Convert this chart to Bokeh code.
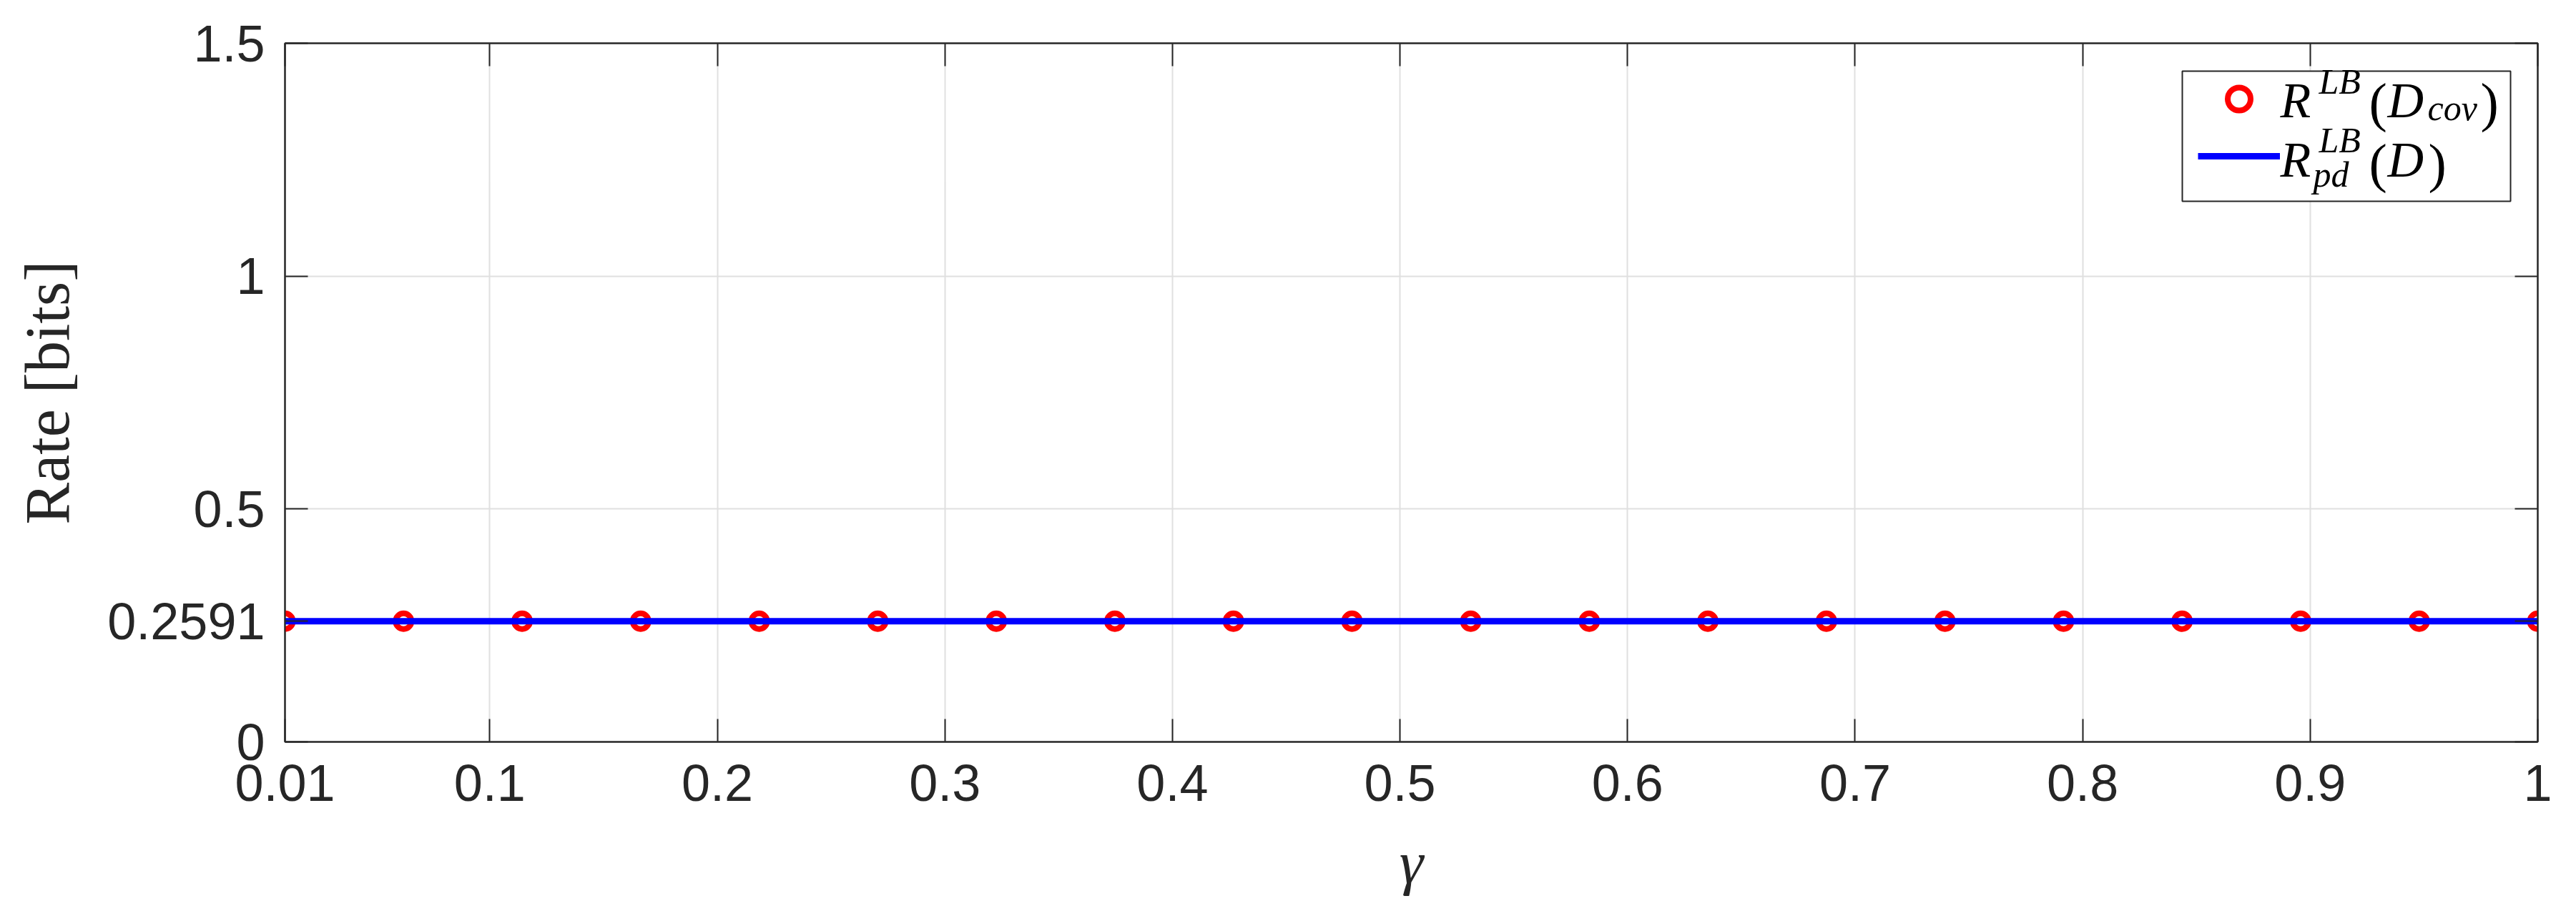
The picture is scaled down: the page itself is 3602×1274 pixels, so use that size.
from bokeh.plotting import figure
from bokeh.models import (Range1d, FixedTicker, LinearAxis, Legend, LegendItem,
                          Label, BoxAnnotation, CustomJSTickFormatter)
from bokeh.embed import file_html
from bokeh.resources import INLINE

# gamma values of the markers and the two curves
gamma = [0.01, 0.0621, 0.1142, 0.1663, 0.2184, 0.2705, 0.3226, 0.3747, 0.4268, 0.4789,
         0.5311, 0.5832, 0.6353, 0.6874, 0.7395, 0.7916, 0.8437, 0.8958, 0.9479, 1.0]
rate_cov = [0.2591, 0.2591, 0.2591, 0.2591, 0.2591, 0.2591, 0.2591, 0.2591, 0.2591, 0.2591,
            0.2591, 0.2591, 0.2591, 0.2591, 0.2591, 0.2591, 0.2591, 0.2591, 0.2591, 0.2591]
rate_pd = [0.2591, 0.2591, 0.2591, 0.2591, 0.2591, 0.2591, 0.2591, 0.2591, 0.2591, 0.2591,
           0.2591, 0.2591, 0.2591, 0.2591, 0.2591, 0.2591, 0.2591, 0.2591, 0.2591, 0.2591]

x_ticks = [0.01, 0.1, 0.2, 0.3, 0.4, 0.5, 0.6, 0.7, 0.8, 0.9, 1.0]
x_tick_labels = ["0.01", "0.1", "0.2", "0.3", "0.4", "0.5", "0.6", "0.7", "0.8", "0.9", "1"]
y_ticks = [0.0, 0.2591, 0.5, 1.0, 1.5]
y_tick_labels = ["0", "0.2591", "0.5", "1", "1.5"]

AX = "#262626"
TICK_FONT = "Liberation Sans"
SERIF = "Liberation Serif"

# page has no body margin with bokeh's template, so borders are page coords
p = figure(frame_width=3150, frame_height=977,
           min_border_left=398, min_border_right=54,
           min_border_top=60, min_border_bottom=237,
           x_range=Range1d(0.01, 1.0), y_range=Range1d(0, 1.5),
           output_backend="svg", toolbar_location=None,
           background_fill_color="white", border_fill_color="white")

p.outline_line_color = AX
p.outline_line_width = 2

xt = FixedTicker(ticks=x_ticks, minor_ticks=[])
yt = FixedTicker(ticks=y_ticks, minor_ticks=[])
blank = CustomJSTickFormatter(code="return ''")


def style_axis(ax, ticker):
    ax.ticker = ticker
    ax.axis_line_color = AX
    ax.axis_line_width = 2
    ax.major_tick_line_color = AX
    ax.major_tick_line_width = 2
    ax.major_tick_in = 32
    ax.major_tick_out = 0
    ax.minor_tick_line_color = None
    ax.major_label_text_font = TICK_FONT
    ax.major_label_text_font_size = "72px"
    ax.major_label_text_color = AX


xa = p.xaxis[0]
style_axis(xa, xt)
xa.major_label_overrides = dict(zip(x_ticks, x_tick_labels))
xa.major_label_standoff = 32
xa.axis_label = "γ"
xa.axis_label_text_font = SERIF
xa.axis_label_text_font_style = "italic"
xa.axis_label_text_font_size = "85px"
xa.axis_label_text_color = AX
xa.axis_label_standoff = 36

ya = p.yaxis[0]
style_axis(ya, yt)
ya.major_label_overrides = dict(zip(y_ticks, y_tick_labels))
ya.major_label_standoff = 28
ya.axis_label = "Rate [bits]"
ya.axis_label_text_font = SERIF
ya.axis_label_text_font_style = "normal"
ya.axis_label_text_font_size = "88px"
ya.axis_label_text_color = AX
ya.axis_label_standoff = 32

top = LinearAxis(formatter=blank)
style_axis(top, xt)
top.major_label_standoff = 0
p.add_layout(top, "above")

right = LinearAxis(formatter=blank)
style_axis(right, yt)
right.major_label_standoff = 0
p.add_layout(right, "right")

p.xgrid.ticker = xt
p.ygrid.ticker = yt
p.grid.grid_line_color = "#e0e0e0"
p.grid.grid_line_width = 2

dots = p.scatter(gamma, rate_cov, marker="circle", size=22, fill_color=None,
                 line_color="#ff0000", line_width=8)
line = p.line(gamma, rate_pd, line_color="#0000ff", line_width=9)

# legend frame (white box), drawn under the legend glyphs and label pieces
p.add_layout(BoxAnnotation(left=2653, right=3112, bottom=756, top=938,
                           left_units="screen", right_units="screen",
                           bottom_units="screen", top_units="screen",
                           fill_color="white", fill_alpha=1,
                           line_color=AX, line_width=2, line_alpha=1))

legend = Legend(items=[LegendItem(label=" ", renderers=[dots]),
                       LegendItem(label=" ", renderers=[line])],
                location="top_right", margin=38, padding=11, spacing=0,
                glyph_width=115, glyph_height=80, label_height=80,
                label_width=310, label_standoff=12,
                label_text_font_size="70px",
                border_line_color=None, background_fill_alpha=0)
p.add_layout(legend)

# legend labels written as text pieces (superscripts / subscripts)
DY = 22
pieces = [
    ("R", 2790, 875, "70px", "italic"),
    ("LB", 2844, 902, "50px", "italic"),
    ("(", 2914, 873, "76px", "normal"),
    ("D", 2940, 875, "70px", "italic"),
    ("cov", 2996, 865, "50px", "italic"),
    (")", 3070, 873, "76px", "normal"),
    ("R", 2790, 792, "70px", "italic"),
    ("LB", 2844, 820, "50px", "italic"),
    ("pd", 2836, 772, "50px", "italic"),
    ("(", 2914, 788, "76px", "normal"),
    ("D", 2940, 792, "70px", "italic"),
    (")", 2997, 788, "76px", "normal"),
]
for txt, sx, sy, size, style in pieces:
    p.add_layout(Label(x=sx, y=sy + DY, x_units="screen", y_units="screen", text=txt,
                       text_font=SERIF, text_font_style=style, text_font_size=size,
                       text_align="left", text_baseline="alphabetic",
                       text_color="black", level="overlay"))

open("out.html", "w").write(file_html(p, INLINE))
